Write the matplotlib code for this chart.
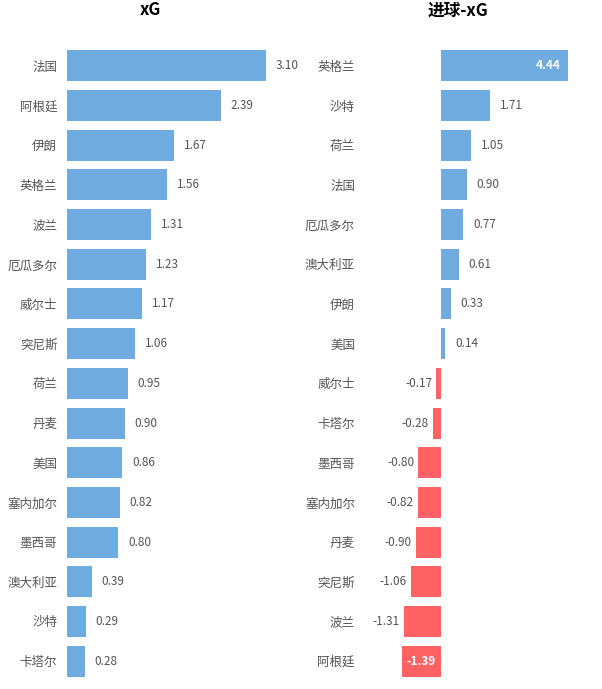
import matplotlib.pyplot as plt

plt.rcParams['font.family'] = 'Noto Sans CJK SC'

xg_teams = ["法国", "阿根廷", "伊朗", "英格兰", "波兰", "厄瓜多尔", "威尔士", "突尼斯",
            "荷兰", "丹麦", "美国", "塞内加尔", "墨西哥", "澳大利亚", "沙特", "卡塔尔"]
xg_vals = [3.10, 2.39, 1.67, 1.56, 1.31, 1.23, 1.17, 1.06, 0.95, 0.90, 0.86, 0.82, 0.80, 0.39, 0.29, 0.28]

diff_teams = ["英格兰", "沙特", "荷兰", "法国", "厄瓜多尔", "澳大利亚", "伊朗", "美国",
              "威尔士", "卡塔尔", "墨西哥", "塞内加尔", "丹麦", "突尼斯", "波兰", "阿根廷"]
diff_vals = [4.44, 1.71, 1.05, 0.90, 0.77, 0.61, 0.33, 0.14,
             -0.17, -0.28, -0.80, -0.82, -0.90, -1.06, -1.31, -1.39]

blue = '#6FABDF'
red = '#FF6262'
txt = '#555555'
W, H = 602, 689

fig = plt.figure(figsize=(W / 100, H / 100), dpi=100)
bot = (H - 681) / H
hgt = 635 / H

ax1 = fig.add_axes([67 / W, bot, 225 / W, hgt])
ax2 = fig.add_axes([380 / W, bot, 195 / W, hgt])

for ax in (ax1, ax2):
    for s in ax.spines.values():
        s.set_visible(False)
    ax.set_xticks([])
    ax.tick_params(axis='y', length=0, labelsize=9, labelcolor=txt)
    ax.set_ylim(15.5, -0.5)

y = range(len(xg_teams))
ax1.barh(y, xg_vals, height=0.78, color=blue)
ax1.set_xlim(0, 3.5)
ax1.set_yticks(list(y))
ax1.set_yticklabels(xg_teams)
ax1.tick_params(axis='y', pad=7)
for i, v in enumerate(xg_vals):
    ax1.text(v + 0.15, i, f"{v:.2f}", va='center', ha='left', fontsize=8.5, color=txt)
ax1.set_title("xG", fontsize=12, fontweight='bold', pad=22, x=0.37)

cols = [blue if v >= 0 else red for v in diff_vals]
ax2.barh(y, diff_vals, height=0.78, color=cols)
ax2.set_xlim(-2.15, 4.7)
ax2.set_yticks(list(y))
ax2.set_yticklabels(diff_teams)
ax2.tick_params(axis='y', pad=18)
for i, v in enumerate(diff_vals):
    if i == 0:
        ax2.text(v - 0.25, i, f"{v:.2f}", va='center', ha='right', fontsize=8.5,
                 color='white', fontweight='bold')
    elif i == len(diff_vals) - 1:
        ax2.text(v / 2, i, f"{v:.2f}", va='center', ha='center', fontsize=8.5,
                 color='white', fontweight='bold')
    elif v >= 0:
        ax2.text(v + 0.35, i, f"{v:.2f}", va='center', ha='left', fontsize=8.5, color=txt)
    else:
        ax2.text(v - 0.15, i, f"{v:.2f}", va='center', ha='right', fontsize=8.5, color=txt)
ax2.set_title("进球-xG", fontsize=12, fontweight='bold', pad=22, x=0.4)

fig.savefig('out.png', dpi=100)
